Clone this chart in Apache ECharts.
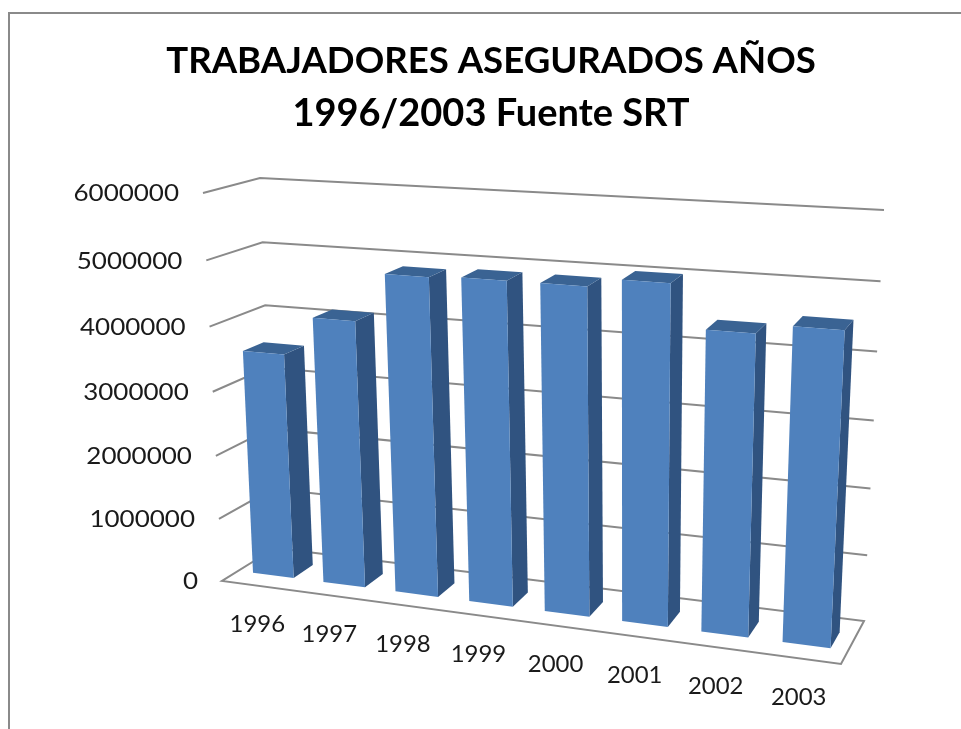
<!DOCTYPE html>
<html>
<head>
<meta charset="utf-8">
<style>
  html, body { margin: 0; padding: 0; background: #fff; }
  #chart { width: 961px; height: 729px; }
</style>
<script src="https://cdn.jsdelivr.net/npm/echarts@6/dist/echarts.min.js"></script>
</head>
<body>
<div id="chart"></div>
<script>
var years = ['1996', '1997', '1998', '1999', '2000', '2001', '2002', '2003'];
var workers = [3540000, 4140000, 4880000, 4910000, 4910000, 5040000, 4420000, 4560000];
var yTicks = [0, 1000000, 2000000, 3000000, 4000000, 5000000, 6000000];

var gridColor = '#8a8a8a';
var textColor = '#1a1a1a';
var labelFont = '23px Lato';

// corners of the 3D box on screen: floor and top, front and back
var floorFL = [222, 581], floorFR = [841, 664], floorBL = [275, 548], floorBR = [864, 621];
var topFL = [203, 193], topFR = [862, 233], topBL = [260, 178], topBR = [884, 210];

function mix(a, b, s) {
  return [a[0] + (b[0] - a[0]) * s, a[1] + (b[1] - a[1]) * s];
}
// perspective spacing along an edge
function warp(s, r) {
  return s / (s + r * (1 - s));
}
// u along categories, v up the value axis, w front to back (all 0..1)
function project(u, v, w) {
  var h = warp(v, 1.05);
  var t = warp(u, 1.1 + 0.05 * h);
  var low = mix(mix(floorFL, floorFR, t), mix(floorBL, floorBR, t), w);
  var high = mix(mix(topFL, topFR, t), mix(topBL, topBR, t), w);
  return mix(low, high, h);
}
function toUV(params, point) {
  var box = params.coordSys;
  return [(point[0] - box.x) / box.width, (box.y + box.height - point[1]) / box.height];
}

function renderWall(params, api) {
  var uv = toUV(params, api.coord([0, api.value(0)]));
  var v = uv[1];
  var line = [project(0, v, 0), project(0, v, 1), project(1, v, 1)];
  var children = [];
  if (v === 0) {
    line = [project(0, 0, 1), project(0, 0, 0), project(1, 0, 0), project(1, 0, 1), project(0, 0, 1)];
  }
  children.push({
    type: 'polyline',
    shape: { points: line },
    style: { fill: 'none', stroke: gridColor, lineWidth: 2 }
  });
  var start = project(0, v, 0);
  children.push({
    type: 'text',
    x: start[0] - 24,
    y: start[1] + 1,
    scaleX: 1.13,
    style: { text: String(api.value(0)), fill: textColor, font: labelFont, align: 'right', verticalAlign: 'middle' }
  });
  return { type: 'group', children: children };
}

function renderBar(params, api) {
  var idx = api.value(0);
  var top = toUV(params, api.coord([idx, api.value(1)]));
  var half = api.size([1, 0])[0] / params.coordSys.width * 0.29;
  var u0 = top[0] - half, u1 = top[0] + half, v = top[1];
  var w0 = 0.31, w1 = 0.69;
  var front = [project(u0, 0, w0), project(u1, 0, w0), project(u1, v, w0), project(u0, v, w0)];
  var side = [project(u1, 0, w0), project(u1, 0, w1), project(u1, v, w1), project(u1, v, w0)];
  var cap = [project(u0, v, w0), project(u1, v, w0), project(u1, v, w1), project(u0, v, w1)];
  var label = project(top[0], 0, 0);
  return {
    type: 'group',
    children: [
      { type: 'polygon', shape: { points: side }, style: { fill: '#305380' } },
      { type: 'polygon', shape: { points: cap }, style: { fill: '#3a6393' } },
      { type: 'polygon', shape: { points: front }, style: { fill: '#4f81bd' } },
      {
        type: 'text',
        x: label[0],
        y: label[1] + 39,
        scaleX: 1.04,
        style: { text: years[idx], fill: textColor, font: labelFont, align: 'center', verticalAlign: 'middle' }
      }
    ]
  };
}

var chart = echarts.init(document.getElementById('chart'));
chart.setOption({
  animation: false,
  backgroundColor: '#ffffff',
  title: [
    {
      text: 'TRABAJADORES ASEGURADOS AÑOS',
      left: 491,
      top: 34,
      padding: 0,
      textAlign: 'center',
      textStyle: { fontFamily: 'Lato', fontWeight: 'bold', fontSize: 36.6, lineHeight: 54, color: '#000000' }
    },
    {
      text: '1996/2003 Fuente SRT',
      left: 491,
      top: 87,
      padding: 0,
      textAlign: 'center',
      textStyle: { fontFamily: 'Lato', fontWeight: 'bold', fontSize: 38, lineHeight: 54, color: '#000000' }
    }
  ],
  graphic: [{
    type: 'polyline',
    shape: { points: [[9, 729], [9, 13], [961, 13]] },
    style: { fill: 'none', stroke: gridColor, lineWidth: 2 }
  }],
  grid: { left: 222, right: 120, top: 193, bottom: 148 },
  xAxis: { type: 'category', data: years, show: false },
  yAxis: { type: 'value', min: 0, max: 6000000, interval: 1000000, show: false },
  series: [
    {
      type: 'custom',
      coordinateSystem: 'cartesian2d',
      renderItem: renderWall,
      encode: { y: 0 },
      silent: true,
      clip: false,
      data: yTicks.map(function (t) { return [t]; })
    },
    {
      type: 'custom',
      coordinateSystem: 'cartesian2d',
      renderItem: renderBar,
      encode: { x: 0, y: 1 },
      silent: true,
      clip: false,
      data: workers.map(function (w, i) { return [i, w]; })
    }
  ]
});
</script>
</body>
</html>
